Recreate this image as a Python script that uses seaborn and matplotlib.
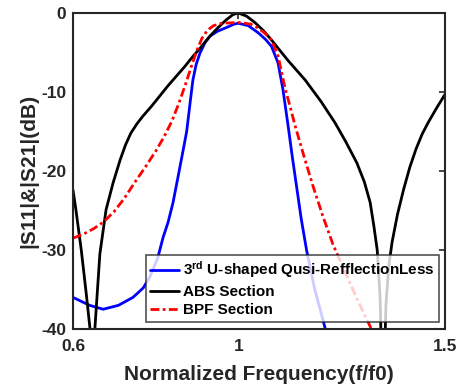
import numpy as np
import pandas as pd
import matplotlib
matplotlib.use("Agg")
import matplotlib.pyplot as plt
import seaborn as sns

# ---- data ----
f_abs = [0.600, 0.607, 0.620, 0.632, 0.641, 0.647, 0.653, 0.665, 0.680, 0.697, 0.714,
         0.727, 0.740, 0.755, 0.770, 0.790, 0.810, 0.830, 0.850, 0.870, 0.890, 0.910,
         0.930, 0.950, 0.970, 0.987, 1.000, 1.020, 1.040, 1.060, 1.080, 1.120, 1.162,
         1.200, 1.234, 1.260, 1.287, 1.305, 1.319, 1.328, 1.336, 1.343, 1.350, 1.357,
         1.364, 1.372, 1.385, 1.400, 1.415, 1.430, 1.445, 1.460, 1.480, 1.500]
db_abs = [-22.4, -24.9, -30.0, -35.5, -39.9, -52.0, -39.9, -30.5, -24.9, -21.5, -18.6,
          -16.7, -15.2, -14.0, -13.0, -11.8, -10.5, -9.2, -8.0, -6.8, -5.5, -4.3,
          -3.0, -1.9, -0.9, -0.2, 0.0, -0.4, -1.2, -2.2, -3.4, -6.0, -8.5,
          -11.2, -13.9, -16.3, -19.0, -21.4, -24.0, -27.0, -30.0, -36.0, -52.0, -37.0,
          -32.0, -29.0, -25.5, -22.3, -19.5, -17.2, -15.3, -13.8, -12.0, -10.3]

f_u = [0.600, 0.640, 0.673, 0.710, 0.745, 0.770, 0.786, 0.805, 0.818, 0.830, 0.842,
       0.855, 0.866, 0.875, 0.883, 0.890, 0.898, 0.907, 0.920, 0.932, 0.950, 0.973,
       0.990, 1.000, 1.024, 1.048, 1.065, 1.080, 1.096, 1.108, 1.121, 1.130, 1.141,
       1.152, 1.165, 1.185, 1.210, 1.230]
db_u = [-36.0, -37.0, -37.5, -37.0, -36.0, -34.8, -33.4, -31.0, -28.4, -26.5, -24.0,
        -20.5, -17.5, -15.0, -11.5, -8.5, -6.5, -5.1, -3.7, -2.9, -2.3, -1.8,
        -1.4, -1.3, -1.6, -2.5, -3.3, -4.2, -6.3, -9.7, -14.5, -18.0, -22.0,
        -26.0, -30.0, -35.0, -39.9, -43.0]

f_bpf = [0.600, 0.625, 0.650, 0.675, 0.700, 0.725, 0.750, 0.775, 0.800, 0.820, 0.840,
         0.857, 0.873, 0.888, 0.900, 0.912, 0.925, 0.940, 0.960, 1.000, 1.030, 1.048,
         1.065, 1.080, 1.096, 1.113, 1.125, 1.137, 1.158, 1.180, 1.205, 1.229, 1.260,
         1.290, 1.321, 1.340]
db_bpf = [-28.5, -28.0, -27.3, -26.4, -25.1, -23.4, -21.4, -19.5, -17.5, -15.7, -13.6,
          -11.3, -8.9, -6.5, -4.7, -3.2, -2.2, -1.6, -1.3, -1.2, -1.4, -1.9,
          -2.6, -3.4, -5.4, -9.5, -11.8, -14.2, -18.0, -21.8, -25.8, -29.3, -33.0,
          -36.5, -39.9, -42.0]

labels = [r"3$^{\mathbf{rd}}$ U-shaped Qusi-RefflectionLess", "ABS Section", "BPF Section"]
colors = ["#0000FF", "#000000", "#FF0000"]

xticks = [0.6, 1, 1.5]
yticks = [0, -10, -20, -30, -40]

# ---- build long-form table ----
df = pd.concat([
    pd.DataFrame({"f": f_u, "dB": db_u, "curve": labels[0]}),
    pd.DataFrame({"f": f_abs, "dB": db_abs, "curve": labels[1]}),
    pd.DataFrame({"f": f_bpf, "dB": db_bpf, "curve": labels[2]}),
], ignore_index=True)

sns.set_theme(style="white")
plt.rcParams["font.family"] = ["Liberation Sans", "DejaVu Sans"]
plt.rcParams["font.weight"] = "bold"
plt.rcParams["mathtext.fontset"] = "custom"
plt.rcParams["mathtext.bf"] = "Liberation Sans:bold"
plt.rcParams["mathtext.rm"] = "Liberation Sans:bold"
plt.rcParams["mathtext.default"] = "bf"

tc = "#262626"
fig = plt.figure(figsize=(4.57, 3.90), dpi=100)
ax = fig.add_axes([73/457, 1 - 329/390, (445 - 73)/457, (329 - 13)/390])

sns.lineplot(data=df, x="f", y="dB", hue="curve", style="curve",
             hue_order=labels, style_order=labels,
             palette=dict(zip(labels, colors)),
             dashes={labels[0]: "", labels[1]: "", labels[2]: (3.2, 1.2, 1.0, 1.2)},
             sort=False, estimator=None, linewidth=2.0, ax=ax)

ax.set_xlim(0.6, 1.5)
ax.set_ylim(-40, 0)
ax.set_xticks(xticks)
ax.set_xticklabels(["0.6", "1", "1.5"])
ax.set_yticks(yticks)
ax.set_yticklabels([str(t) for t in yticks])
ax.tick_params(direction="in", length=4, width=1.2, colors=tc, labelsize=12.5,
               top=True, right=True, labeltop=False, labelright=False, pad=5)
ax.tick_params(axis="x", pad=7)
for lab in ax.get_xticklabels() + ax.get_yticklabels():
    lab.set_fontweight("bold")
    lab.set_color(tc)
for s in ax.spines.values():
    s.set_color(tc)
    s.set_linewidth(1.5)

ax.set_xlabel("Normalized Frequency(f/f0)", fontsize=15, fontweight="bold", color=tc, labelpad=8)
ax.set_ylabel("|S11|&|S21|(dB)", fontsize=15, fontweight="bold", color=tc, labelpad=2)

leg = ax.legend(loc="lower right", bbox_to_anchor=(0.983, 0.022), frameon=True, fancybox=False,
                fontsize=11, handlelength=1.9, handletextpad=0.2, borderpad=0.3,
                labelspacing=0.3, borderaxespad=0.0)
leg.get_frame().set_edgecolor(tc)
leg.get_frame().set_linewidth(1.2)
for t in leg.get_texts():
    t.set_fontweight("bold")
    t.set_color("#000000")

fig.savefig("out.png", dpi=100)
